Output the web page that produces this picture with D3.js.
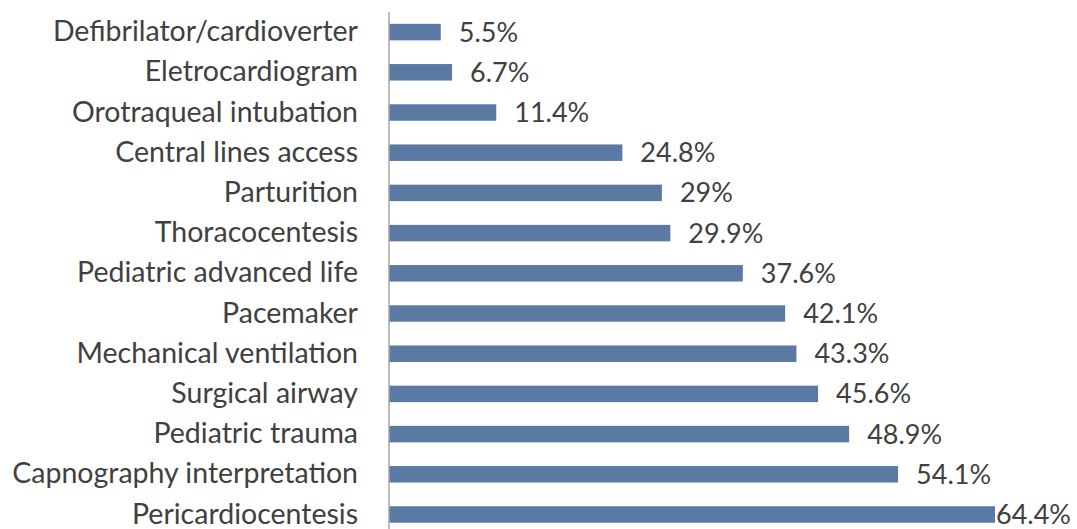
<!DOCTYPE html>
<html>
<head>
<meta charset="utf-8">
<script src="https://cdn.jsdelivr.net/npm/d3@7"></script>
<style>
  body { margin: 0; background: #fff; }
  text { font-family: Lato, "Open Sans", sans-serif; fill: #404040; }
</style>
</head>
<body>
<svg id="chart" width="1077" height="529"></svg>
<script>
const categories = [
  'Defibrilator/cardioverter',
  'Eletrocardiogram',
  'Orotraqueal intubation',
  'Central lines access',
  'Parturition',
  'Thoracocentesis',
  'Pediatric advanced life',
  'Pacemaker',
  'Mechanical ventilation',
  'Surgical airway',
  'Pediatric trauma',
  'Capnography interpretation',
  'Pericardiocentesis'
]
const values = [5.5, 6.7, 11.4, 24.8, 29, 29.9, 37.6, 42.1, 43.3, 45.6, 48.9, 54.1, 64.4]
const valueLabels = ['5.5%', '6.7%', '11.4%', '24.8%', '29%', '29.9%', '37.6%', '42.1%', '43.3%', '45.6%', '48.9%', '54.1%', '64.4%']

const width = 1077
const height = 529
const left = 389

const svg = d3.select('#chart')

const x = d3.scaleLinear().domain([0, 64.4]).range([left, 995])
const y = d3.scaleBand()
  .domain(categories)
  .range([12, 12 + 13 * 40.2])
  .paddingInner(0.59)
  .paddingOuter(0.295)

const rows = categories.map((c, i) => ({name: c, value: values[i], label: valueLabels[i]}))

svg.append('g')
  .selectAll('rect')
  .data(rows)
  .enter()
  .append('rect')
  .attr('x', x(0))
  .attr('y', d => y(d.name))
  .attr('width', d => x(d.value) - x(0))
  .attr('height', y.bandwidth())
  .attr('fill', '#5a7aa3')

// category axis
const axis = svg.append('g')
  .attr('transform', `translate(${left},0)`)
  .call(d3.axisLeft(y).tickSize(0).tickPadding(31))
axis.select('.domain')
  .attr('d', `M0,12V${height + 5}`)
  .attr('stroke', '#a6a6a6')
  .attr('stroke-width', 1.5)
axis.selectAll('text')
  .attr('font-size', 28.5)
  .attr('fill', '#404040')
  .style('font-family', 'Lato, "Open Sans", sans-serif')

svg.append('g')
  .selectAll('text')
  .data(rows)
  .enter()
  .append('text')
  .attr('y', d => y(d.name) + y.bandwidth() / 2)
  .attr('dy', '0.35em')
  .attr('font-size', 27)
  .text(d => d.label)
  .attr('x', function (d) {
    const w = this.getComputedTextLength()
    return Math.min(x(d.value) + 18, width - 6 - w)
  })
</script>
</body>
</html>
